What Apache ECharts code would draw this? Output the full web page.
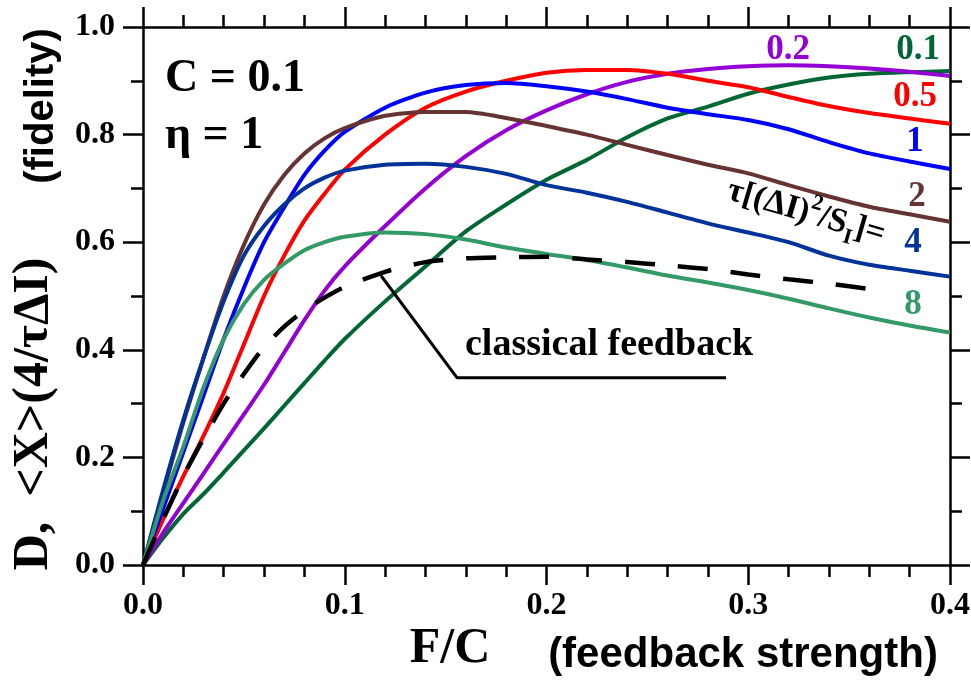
<!DOCTYPE html>
<html><head><meta charset="utf-8">
<script src="https://cdn.jsdelivr.net/npm/echarts@6/dist/echarts.min.js"></script>
<style>html,body{margin:0;padding:0;background:#fff}#c{width:971px;height:680px}</style>
</head><body><div id="c"></div>
<script>
// F/C values (feedback strength)
const xs = [0, 0.01, 0.02, 0.03, 0.04, 0.05, 0.06, 0.07, 0.08, 0.09, 0.10, 0.12, 0.14, 0.16, 0.18, 0.20, 0.22, 0.24, 0.26, 0.28, 0.30, 0.32, 0.34, 0.36, 0.38, 0.40];
// fidelity for tau[(dI)^2/S_I] = 0.1, 0.2, 0.5, 1, 2, 4, 8
const tau01 = [0, 0.05, 0.095, 0.132, 0.172, 0.213, 0.254, 0.296, 0.338, 0.38, 0.42, 0.49, 0.555, 0.62, 0.67, 0.716, 0.753, 0.795, 0.83, 0.852, 0.876, 0.893, 0.906, 0.913, 0.916, 0.918];
const tau02 = [0, 0.06, 0.115, 0.17, 0.225, 0.28, 0.335, 0.395, 0.455, 0.51, 0.555, 0.63, 0.70, 0.76, 0.808, 0.845, 0.875, 0.898, 0.913, 0.922, 0.927, 0.929, 0.927, 0.923, 0.917, 0.909];
const tau05 = [0, 0.085, 0.165, 0.24, 0.32, 0.41, 0.50, 0.575, 0.64, 0.69, 0.735, 0.80, 0.85, 0.88, 0.90, 0.915, 0.92, 0.92, 0.913, 0.90, 0.888, 0.87, 0.853, 0.84, 0.83, 0.82];
const tau1  = [0, 0.105, 0.21, 0.315, 0.42, 0.515, 0.60, 0.665, 0.725, 0.77, 0.805, 0.85, 0.878, 0.892, 0.896, 0.89, 0.88, 0.866, 0.85, 0.838, 0.827, 0.81, 0.786, 0.765, 0.75, 0.736];
const tau2  = [0, 0.135, 0.265, 0.385, 0.50, 0.595, 0.67, 0.725, 0.765, 0.793, 0.812, 0.835, 0.842, 0.842, 0.831, 0.816, 0.80, 0.781, 0.762, 0.744, 0.728, 0.706, 0.685, 0.666, 0.652, 0.638];
const tau4  = [0, 0.14, 0.27, 0.385, 0.49, 0.575, 0.63, 0.67, 0.70, 0.72, 0.733, 0.744, 0.746, 0.74, 0.727, 0.706, 0.692, 0.675, 0.655, 0.635, 0.618, 0.60, 0.575, 0.558, 0.547, 0.536];
const tau8  = [0, 0.12, 0.22, 0.33, 0.42, 0.485, 0.53, 0.56, 0.585, 0.60, 0.61, 0.618, 0.615, 0.605, 0.59, 0.578, 0.567, 0.553, 0.538, 0.525, 0.511, 0.495, 0.477, 0.46, 0.445, 0.432];
// classical feedback (dashed)
const classicalX = [0, 0.01, 0.02, 0.03, 0.04, 0.05, 0.06, 0.07, 0.08, 0.09, 0.10, 0.12, 0.14, 0.16, 0.18, 0.20, 0.22, 0.24, 0.26, 0.28, 0.30, 0.32, 0.34, 0.36, 0.365];
const classicalY = [0, 0.085, 0.165, 0.235, 0.30, 0.355, 0.405, 0.443, 0.473, 0.497, 0.517, 0.545, 0.563, 0.57, 0.572, 0.573, 0.568, 0.563, 0.557, 0.55, 0.54, 0.531, 0.523, 0.513, 0.511];
// annotation pointer for "classical feedback"
const pointerX = [0.118, 0.1557, 0.289];
const pointerY = [0.5376, 0.348, 0.348];
const curveLabels = ['0.1', '0.2', '0.5', '1', '2', '4', '8'];

const pairs = (xa, ya) => xa.map((x, i) => [x, ya[i]]);
const serif = '"Liberation Serif", "Times New Roman", serif';
const sans = '"Liberation Sans", Arial, sans-serif';
const curves = [
  {v: tau01, c: '#006633'}, {v: tau02, c: '#9400d3'}, {v: tau05, c: '#ff0000'},
  {v: tau1, c: '#0000ff'}, {v: tau2, c: '#663333'}, {v: tau4, c: '#003399'}, {v: tau8, c: '#339966'}
];
const series = curves.map((cv, i) => ({
  type: 'line', name: curveLabels[i], data: pairs(xs, cv.v), showSymbol: false, symbol: 'none',
  smooth: 0.25,
  lineStyle: {color: cv.c, width: 4}, z: 3
}));
series.push({type: 'line', name: 'classical', data: pairs(classicalX, classicalY), symbol: 'none',
  smooth: 0.25,
  lineStyle: {color: '#000', width: 4.5, type: [30, 23]}, z: 4});
series.push({type: 'line', name: 'pointer', data: pairs(pointerX, pointerY), symbol: 'none',
  lineStyle: {color: '#000', width: 3}, z: 4});

const axLine = {show: true, onZero: false, lineStyle: {color: '#000', width: 2.5}};
const tick = {show: true, inside: false, length: 20, lineStyle: {color: '#000', width: 2.5}};
const lab = {fontFamily: serif, fontWeight: 'bold', fontSize: 32, color: '#000'};
function xAx(pos, showLab) {
  return {type: 'value', position: pos, min: 0, max: 0.4, interval: 0.1,
    axisLine: axLine, axisTick: tick,
    minorTick: {show: true, splitNumber: 5, length: 12, lineStyle: {color: '#000', width: 2.5}},
    splitLine: {show: false}, minorSplitLine: {show: false},
    axisLabel: Object.assign({show: showLab, margin: 25, formatter: v => v.toFixed(1)}, lab)};
}
function yAx(pos, showLab) {
  return {type: 'value', position: pos, min: 0, max: 1, interval: 0.2,
    axisLine: axLine, axisTick: tick,
    minorTick: {show: true, splitNumber: 2, length: 12, lineStyle: {color: '#000', width: 2.5}},
    splitLine: {show: false}, minorSplitLine: {show: false},
    axisLabel: Object.assign({show: showLab, margin: 28, formatter: v => v.toFixed(1)}, lab)};
}
function txt(x, y, text, size, color, opts) {
  return Object.assign({type: 'text', x: x, y: y, z: 10,
    style: {text: text, fill: color, font: 'bold ' + size + 'px ' + serif, align: 'center', verticalAlign: 'middle'}}, opts || {});
}
const labelColors = ['#006633', '#9400d3', '#ff0000', '#0000ff', '#663333', '#003399', '#339966'];
const labelPos = [[918, 50], [788, 50], [915, 97], [915, 142], [917, 197], [913, 243], [913, 305]];

const chart = echarts.init(document.getElementById('c'));
chart.setOption({
  animation: false,
  backgroundColor: '#fff',
  grid: {left: 143, right: 21, top: 27, bottom: 115, containLabel: false, outerBoundsMode: 'none'},
  xAxis: [xAx('bottom', true), xAx('top', false)],
  yAxis: [yAx('left', true), yAx('right', false)],
  series: series,
  graphic: [
    // axis titles
    {type: 'text', x: 34, y: 414, rotation: Math.PI / 2, z: 10,
      style: {text: 'D,  <X>(4/τΔI)', fill: '#000', font: 'bold 50px ' + serif, align: 'center', verticalAlign: 'middle'}},
    {type: 'text', x: 42, y: 106, rotation: Math.PI / 2, z: 10,
      style: {text: '(fidelity)', fill: '#000', font: 'bold 40px ' + sans, align: 'center', verticalAlign: 'middle'}},
    {type: 'text', x: 450, y: 649, z: 10,
      style: {text: 'F/C', fill: '#000', font: 'bold 50px ' + serif, align: 'center', verticalAlign: 'middle'}},
    {type: 'text', x: 743, y: 655, z: 10,
      style: {text: '(feedback strength)', fill: '#000', font: 'bold 42px ' + sans, align: 'center', verticalAlign: 'middle'}},
    // parameters
    {type: 'text', x: 165, y: 79, z: 10,
      style: {text: 'C = 0.1', fill: '#000', font: 'bold 46px ' + serif, align: 'left', verticalAlign: 'middle'}},
    {type: 'text', x: 165, y: 136, z: 10,
      style: {text: 'η = 1', fill: '#000', font: 'bold 46px ' + serif, align: 'left', verticalAlign: 'middle'}},
    // classical feedback label
    {type: 'text', x: 465, y: 345, z: 10,
      style: {text: 'classical feedback', fill: '#000', font: 'bold 38px ' + serif, align: 'left', verticalAlign: 'middle'}},
    // tau label, rotated
    {type: 'text', x: 806, y: 213, rotation: -0.285, z: 10,
      style: {text: '{m|τ[(ΔI)}{sup|2}{m|/S}{sub|I}{m|]=}', align: 'center', verticalAlign: 'middle',
        rich: {
          m: {fontFamily: serif, fontWeight: 'bold', fontSize: 34, fill: '#000', color: '#000', lineHeight: 46, verticalAlign: 'middle'},
          sup: {fontFamily: serif, fontWeight: 'bold', fontSize: 22, fill: '#000', color: '#000', lineHeight: 46, verticalAlign: 'top'},
          sub: {fontFamily: serif, fontWeight: 'bold', fontSize: 22, fill: '#000', color: '#000', lineHeight: 46, verticalAlign: 'bottom'}
        }}}
  ].concat(curveLabels.map((t, i) => txt(labelPos[i][0], labelPos[i][1], t, 35, labelColors[i])))
});
</script>
</body></html>
